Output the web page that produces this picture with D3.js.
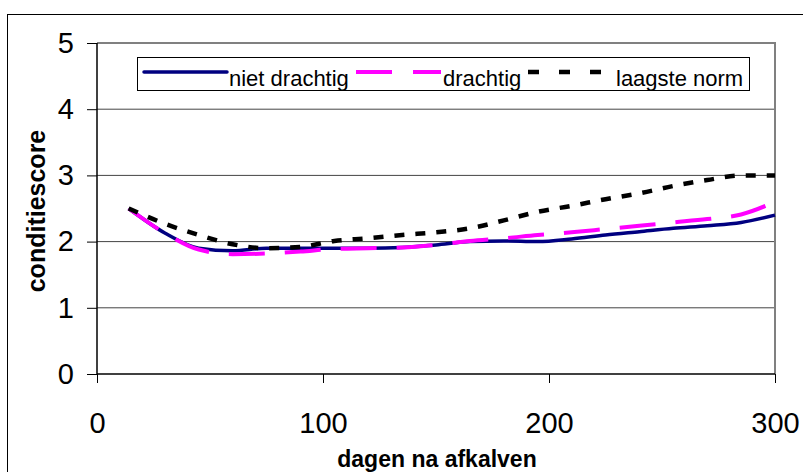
<!DOCTYPE html>
<html>
<head>
<meta charset="utf-8">
<script src="https://cdn.jsdelivr.net/npm/d3@7"></script>
<style>
    body { margin: 0; background: #fff; }
    text { font-family: "Liberation Sans", Arial, sans-serif; }
</style>
</head>
<body>
<div id="chart"></div>
<script>
const DAYS = [14, 30, 45, 60, 75, 90, 105, 120, 135, 150, 165, 180, 195, 210, 225, 240, 255, 270, 285, 300];
const NIET_DRACHTIG = [2.5, 2.13, 1.9, 1.86, 1.9, 1.9, 1.9, 1.9, 1.91, 1.95, 2.0, 2.01, 2.0, 2.04, 2.1, 2.15, 2.2, 2.24, 2.29, 2.4];
const DRACHTIG = [2.5, 2.13, 1.88, 1.81, 1.82, 1.85, 1.89, 1.9, 1.91, 1.95, 2.01, 2.05, 2.1, 2.14, 2.19, 2.24, 2.29, 2.34, 2.41, 2.6];
const LAAGSTE_NORM = [2.5, 2.27, 2.1, 1.96, 1.9, 1.92, 2.01, 2.05, 2.1, 2.14, 2.2, 2.32, 2.45, 2.54, 2.64, 2.73, 2.84, 2.93, 3.0, 3.0];
const X_TICKS = [0, 100, 200, 300];
const Y_TICKS = [0, 1, 2, 3, 4, 5];
const SERIES_NAMES = ["niet drachtig", "drachtig", "laagste norm"];

const width = 803;
const height = 472;

const svg = d3.select("#chart").append("svg")
    .attr("width", width)
    .attr("height", height);

svg.append("rect")
    .attr("width", width)
    .attr("height", height)
    .attr("fill", "#fff");

// outer chart border (runs off right and bottom)
svg.append("rect")
    .attr("x", 7.5)
    .attr("y", 14.5)
    .attr("width", 900)
    .attr("height", 600)
    .attr("fill", "none")
    .attr("stroke", "#000")
    .attr("stroke-width", 1);

const plot = { left: 97, right: 775, top: 43, bottom: 374 };

const x = d3.scaleLinear().domain([0, 300]).range([plot.left, plot.right]);
const y = d3.scaleLinear().domain([0, 5]).range([plot.bottom, plot.top]);

// gridlines
svg.append("g")
    .selectAll("line")
    .data(Y_TICKS.filter(d => d > 0 && d < 5))
    .enter()
    .append("line")
    .attr("x1", plot.left)
    .attr("x2", plot.right)
    .attr("y1", d => y(d))
    .attr("y2", d => y(d))
    .attr("stroke", "#444")
    .attr("stroke-width", 1);

// grey frame top + right
svg.append("path")
    .attr("d", `M${plot.left},${plot.top}H${plot.right}V${plot.bottom}`)
    .attr("fill", "none")
    .attr("stroke", "#808080")
    .attr("stroke-width", 2);

// axes
const yAxis = svg.append("g")
    .attr("transform", `translate(${plot.left},0)`)
    .call(d3.axisLeft(y).tickValues(Y_TICKS).tickFormat(d3.format("d")).tickSize(10).tickPadding(13));

const xAxis = svg.append("g")
    .attr("transform", `translate(0,${plot.bottom})`)
    .call(d3.axisBottom(x).tickValues(X_TICKS).tickFormat(d3.format("d")).tickSize(9).tickPadding(29));

[yAxis, xAxis].forEach(ax => {
    ax.select(".domain").attr("stroke", "#000").attr("stroke-width", 1.5);
    ax.selectAll(".tick line").attr("stroke", "#000").attr("stroke-width", 1);
    ax.selectAll(".tick text")
        .attr("fill", "#000")
        .style("font-size", "29px")
        .style("font-family", "'Liberation Sans', Arial, sans-serif");
});
yAxis.select(".domain").attr("d", `M0,${plot.top}V${plot.bottom}`);
xAxis.select(".domain").attr("d", `M${plot.left},0H${plot.right}`);

// axis titles
svg.append("text")
    .attr("x", 437)
    .attr("y", 467)
    .attr("text-anchor", "middle")
    .style("font-size", "23px")
    .style("font-weight", "bold")
    .text("dagen na afkalven");

svg.append("text")
    .attr("transform", "translate(45,211) rotate(-90)")
    .attr("text-anchor", "middle")
    .style("font-size", "25px")
    .style("font-weight", "bold")
    .text("conditiescore");

// lines
const series = [
    { name: SERIES_NAMES[0], values: NIET_DRACHTIG, color: "#000080", width: 3.5, dash: null, legendDash: null },
    { name: SERIES_NAMES[1], values: DRACHTIG, color: "#ff00ff", width: 4, dash: "36,20", legendDash: "36,21" },
    { name: SERIES_NAMES[2], values: LAAGSTE_NORM, color: "#000", width: 4.5, dash: "10,11", legendDash: "11,20" }
];

const line = d3.line()
    .x(d => x(d[0]))
    .y(d => y(d[1]))
    .curve(d3.curveMonotoneX);

series.forEach(s => {
    svg.append("path")
        .datum(DAYS.map((d, i) => [d, s.values[i]]))
        .attr("fill", "none")
        .attr("stroke", s.color)
        .attr("stroke-width", s.width)
        .attr("stroke-dasharray", s.dash)
        .attr("d", line);
});

// legend
const legend = svg.append("g");
legend.append("rect")
    .attr("x", 137.5)
    .attr("y", 57.5)
    .attr("width", 612)
    .attr("height", 33)
    .attr("fill", "#fff")
    .attr("stroke", "#000")
    .attr("stroke-width", 1);

const legendItems = [
    { x1: 144, x2: 227, tx: 229 },
    { x1: 356, x2: 441, tx: 443 },
    { x1: 528, x2: 602, tx: 616 }
];

series.forEach((s, i) => {
    const it = legendItems[i];
    legend.append("line")
        .attr("x1", it.x1)
        .attr("x2", it.x2)
        .attr("y1", 72)
        .attr("y2", 72)
        .attr("stroke", s.color)
        .attr("stroke-width", s.width)
        .attr("stroke-linecap", i === 0 ? "round" : "butt")
        .attr("stroke-dasharray", s.legendDash);
    legend.append("text")
        .attr("x", it.tx)
        .attr("y", 86)
        .style("font-size", "22px")
        .text(s.name);
});
</script>
</body>
</html>
